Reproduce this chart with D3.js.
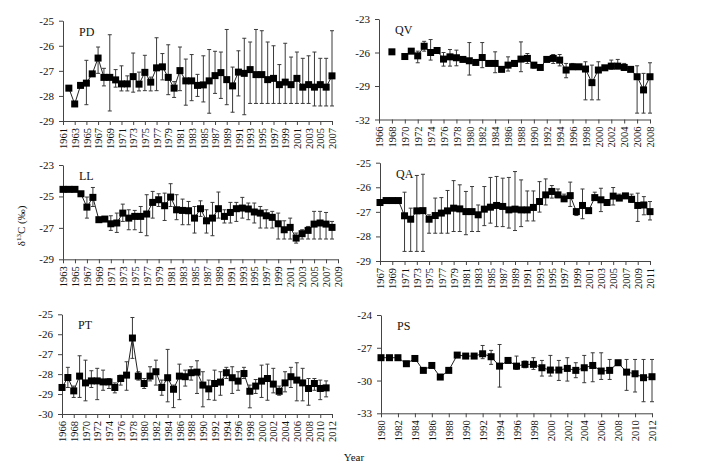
<!DOCTYPE html>
<html><head><meta charset="utf-8">
<script src="https://cdn.jsdelivr.net/npm/d3@7"></script>
<style>body{margin:0;background:#fff}svg{display:block}text{font-family:"Liberation Serif","Times New Roman",serif;fill:#111}</style>
</head><body><div id="c"></div>
<script>
// ---------- DATA ----------
const pdYears = d3.range(1962, 2008);
const pdValues = [-27.69,-28.32,-27.58,-27.49,-27.12,-26.49,-27.26,-27.26,-27.36,-27.52,-27.52,-27.23,-27.53,-27.06,-27.45,-26.88,-26.84,-27.26,-27.69,-26.99,-27.40,-27.40,-27.58,-27.56,-27.40,-27.19,-27.07,-27.35,-27.60,-27.05,-27.10,-26.95,-27.15,-27.15,-27.35,-27.30,-27.55,-27.45,-27.55,-27.30,-27.65,-27.55,-27.65,-27.55,-27.65,-27.20];
const pdHigh = [null,null,null,-26.58,null,-26.05,-26.90,-25.56,-26.95,-26.80,-27.20,-26.29,-27.05,-26.38,-27.25,-25.68,-26.31,-25.96,-27.43,-26.05,-26.53,-26.35,-27.14,-26.40,-26.15,-26.22,-26.25,-25.35,-26.85,-26.20,-25.70,-25.85,-25.35,-25.40,-25.85,-26.00,-26.75,-25.90,-26.45,-26.25,-26.50,-26.40,-26.25,-26.50,-26.50,-25.40];
const pdLow = [null,null,null,-28.35,null,-27.10,-27.60,-28.60,-27.65,-27.80,-27.80,-27.85,-27.80,-27.79,-27.80,-27.79,-27.36,-27.95,-28.06,-27.79,-28.37,-28.19,-28.02,-28.24,-28.69,-27.90,-28.10,-28.35,-28.65,-28.00,-28.75,-28.30,-28.30,-28.30,-28.30,-28.30,-28.30,-28.30,-28.30,-28.30,-28.30,-28.30,-28.40,-28.40,-28.40,-28.40];
const pdTicks = [1961,1963,1965,1967,1969,1971,1973,1975,1977,1979,1981,1983,1985,1987,1989,1991,1993,1995,1997,1999,2001,2003,2005,2007];
const pdYTicks = [-25,-26,-27,-28,-29];

const qvYears = d3.range(1968, 2009);
const qvValues = [-25.94,null,-26.36,-25.88,-26.30,-25.44,-26.00,-25.82,-26.59,-26.39,-26.47,-26.62,-26.74,-26.89,-26.45,-26.98,-26.98,-27.51,-27.13,-26.98,-26.59,-26.53,-27.13,-27.34,-26.62,-26.53,-26.68,-27.57,-27.28,-27.28,-27.48,-28.70,-27.57,-27.37,-27.22,-27.22,-27.34,-27.51,-28.17,-29.35,-28.17];
const qvHigh = [null,null,null,null,-25.88,-25.00,-24.84,null,-26.00,-25.73,-25.79,null,-25.11,null,-25.11,null,-25.94,null,-26.39,-26.85,-25.05,-26.09,-26.90,null,null,-26.18,-26.18,-26.98,-26.98,null,-26.83,-27.13,-26.83,null,-26.68,-26.62,-26.98,null,-27.19,-27.87,-26.92];
const qvLow = [null,null,null,null,-26.92,-25.88,-26.68,null,-27.22,-27.22,-27.19,null,-28.02,null,-27.36,null,-27.81,null,-27.66,-27.25,-27.72,-26.98,-27.40,null,null,-26.98,-27.20,-28.26,-27.42,null,-30.24,-30.24,-30.24,null,-27.50,-27.45,-27.60,null,-31.43,-31.43,-31.43];
const qvTicks = [1966,1968,1970,1972,1974,1976,1978,1980,1982,1984,1986,1988,1990,1992,1994,1996,1998,2000,2002,2004,2006,2008];
const qvYTicks = [-23,-26,-29,-32];

const llYears = d3.range(1963, 2009);
const llValues = [-24.55,-24.55,-24.55,-24.83,-25.68,-25.06,-26.48,-26.44,-26.74,-26.69,-26.06,-26.38,-26.27,-26.27,-26.12,-25.38,-25.21,-25.59,-25.04,-25.85,-25.89,-25.91,-26.38,-25.78,-26.55,-26.38,-25.78,-26.27,-26.02,-25.78,-25.74,-25.80,-25.99,-26.06,-26.23,-26.33,-26.74,-27.12,-26.97,-27.65,-27.37,-27.16,-26.76,-26.69,-26.76,-26.97];
const llHigh = [null,null,null,null,-25.04,-24.43,null,null,-26.23,-26.06,-25.49,-25.85,-25.89,-25.64,-24.89,-24.68,-24.83,-24.79,-24.19,-24.89,-25.17,-25.32,-25.64,-25.28,-25.85,-25.38,-24.72,-25.85,-25.38,-25.38,-25.06,-25.42,-25.42,-25.64,-25.85,-25.95,-26.06,-26.55,-26.38,-27.33,-27.12,-26.91,-25.95,-25.95,-26.02,-26.59];
const llLow = [null,null,null,null,-26.38,-25.64,null,null,-27.16,-27.29,-26.59,-27.12,-27.12,-27.29,-27.50,-26.38,-25.64,-26.53,-25.64,-26.48,-26.80,-26.80,-27.33,-26.27,-27.33,-27.50,-26.38,-26.69,-26.69,-26.59,-26.38,-26.48,-26.69,-27.01,-27.01,-27.01,-27.71,-27.71,-27.71,-27.97,-27.71,-27.71,-27.71,-27.71,-27.71,-27.71];
const llTicks = [1963,1965,1967,1969,1971,1973,1975,1977,1979,1981,1983,1985,1987,1989,1991,1993,1995,1997,1999,2001,2003,2005,2007,2009];
const llYTicks = [-23,-25,-27,-29];

const qaYears = d3.range(1967, 2012);
const qaValues = [-26.62,-26.54,-26.54,-26.54,-27.16,-27.30,-26.96,-26.95,-27.30,-27.15,-27.05,-26.96,-26.85,-26.88,-26.99,-26.99,-27.12,-26.89,-26.81,-26.74,-26.78,-26.92,-26.89,-26.92,-26.92,-26.82,-26.58,-26.31,-26.17,-26.31,-26.47,-26.34,-26.99,-26.74,-26.95,-26.42,-26.51,-26.62,-26.36,-26.44,-26.35,-26.49,-26.74,-26.72,-26.99];
const qaHigh = [null,null,null,null,-26.20,-26.85,-25.52,-25.47,-27.12,-26.44,-26.42,-26.13,-25.73,-25.90,-26.17,-25.97,-26.72,-25.97,-25.60,-25.56,-25.63,-25.60,-25.36,-25.70,-26.15,-26.15,-25.77,-25.66,-25.93,-26.07,-26.28,-25.79,-26.92,-26.07,null,-26.20,-26.04,null,-26.01,-26.28,-26.28,-26.28,-26.24,-26.38,-26.58];
const qaLow = [null,null,null,null,-28.61,-28.61,-28.61,-28.61,-27.87,-27.87,-27.87,-27.87,-27.80,-27.80,-27.93,-27.80,-27.80,-27.56,-27.46,-27.60,-27.60,-27.66,-27.76,-27.60,-27.37,-27.37,-27.01,-26.72,-26.44,-26.42,-26.58,-26.78,-27.15,-27.28,null,-26.52,-26.99,null,-26.72,-26.51,-26.42,-26.62,-27.39,-27.12,-27.33];
const qaTicks = [1967,1969,1971,1973,1975,1977,1979,1981,1983,1985,1987,1989,1991,1993,1995,1997,1999,2001,2003,2005,2007,2009,2011];
const qaYTicks = [-25,-26,-27,-28,-29];

const ptYears = d3.range(1966, 2012);
const ptValues = [-28.67,-28.17,-28.84,-28.10,-28.44,-28.34,-28.34,-28.39,-28.39,-28.67,-28.22,-28.05,-26.19,-28.10,-28.47,-28.10,-27.88,-28.67,-28.18,-28.76,-28.10,-28.13,-27.93,-27.90,-28.55,-28.74,-28.47,-28.40,-27.93,-28.18,-28.35,-27.97,-28.86,-28.60,-28.35,-28.22,-28.50,-28.86,-28.44,-28.13,-28.30,-28.44,-28.72,-28.47,-28.72,-28.69];
const ptHigh = [null,-27.66,-28.60,-27.08,-27.30,-27.83,-27.71,-27.80,-28.22,-28.44,-28.05,-27.38,-25.16,-27.88,-28.22,-27.63,-27.30,-28.30,-26.76,-28.55,-27.50,-27.80,-27.63,-27.33,-27.88,-28.30,-27.80,-27.88,-27.66,-27.63,-27.88,-27.66,-28.55,-28.27,-27.55,-27.50,-27.71,-28.60,-27.88,-27.66,-27.43,-27.71,-28.22,-28.22,-28.30,-28.34];
const ptLow = [null,-28.67,-29.17,-29.17,-29.34,-28.67,-29.28,-28.81,-28.72,-28.94,-28.55,-28.81,-27.21,-28.30,-28.72,-28.34,-28.55,-29.06,-29.39,-29.68,-29.28,-28.60,-28.30,-28.97,-29.64,-29.28,-29.31,-29.06,-28.22,-28.97,-28.81,-28.22,-29.69,-28.97,-29.17,-29.31,-28.94,-29.06,-28.89,-28.67,-29.34,-29.34,-29.56,-28.81,-29.28,-29.14];
const ptTicks = [1966,1968,1970,1972,1974,1976,1978,1980,1982,1984,1986,1988,1990,1992,1994,1996,1998,2000,2002,2004,2006,2008,2010,2012];
const ptYTicks = [-25,-26,-27,-28,-29,-30];

const psYears = d3.range(1980, 2013);
const psValues = [-27.91,-27.91,-27.91,-28.46,-27.98,-29.07,-28.62,-29.68,-29.07,-27.67,-27.76,-27.76,-27.55,-27.82,-28.68,-28.16,-28.68,-28.52,-28.52,-28.83,-29.04,-29.04,-28.89,-29.07,-28.83,-28.62,-29.13,-29.07,-28.37,-29.23,-29.38,-29.74,-29.65];
const psHigh = [null,null,null,null,null,null,null,null,null,null,null,null,-26.79,-27.24,-26.70,-27.91,-27.76,-28.22,-27.91,-28.16,-27.70,-28.16,-27.91,-28.37,-27.70,-27.46,-27.46,-28.07,null,-28.07,-28.07,-28.07,-28.07];
const psLow = [null,null,null,null,null,null,null,null,null,null,null,null,-28.00,-28.52,-30.60,-28.37,-28.98,-28.83,-28.98,-29.59,-29.59,-29.99,-30.05,-29.74,-30.20,-30.11,-29.90,-29.90,null,-30.90,-31.05,-31.94,-31.94];
const psTicks = [1980,1982,1984,1986,1988,1990,1992,1994,1996,1998,2000,2002,2004,2006,2008,2010,2012];
const psYTicks = [-24,-27,-30,-33];

// ---------- LAYOUT ----------
const panels = [
  {name:"PD", years:pdYears, v:pdValues, hi:pdHigh, lo:pdLow, xt:pdTicks, yt:pdYTicks, x0:63, x1:332, yTop:20.7, yBot:121, yD:[-29,-25]},
  {name:"QV", years:qvYears, v:qvValues, hi:qvHigh, lo:qvLow, xt:qvTicks, yt:qvYTicks, x0:379, x1:650, yTop:19, yBot:119.5, yD:[-32,-23]},
  {name:"LL", years:llYears, v:llValues, hi:llHigh, lo:llLow, xt:llTicks, yt:llYTicks, x0:63, x1:338, yTop:165, yBot:259.3, yD:[-29,-23]},
  {name:"QA", years:qaYears, v:qaValues, hi:qaHigh, lo:qaLow, xt:qaTicks, yt:qaYTicks, x0:380, x1:650, yTop:162.7, yBot:261, yD:[-29,-25]},
  {name:"PT", years:ptYears, v:ptValues, hi:ptHigh, lo:ptLow, xt:ptTicks, yt:ptYTicks, x0:62, x1:332, yTop:314.3, yBot:414, yD:[-30,-25]},
  {name:"PS", years:psYears, v:psValues, hi:psHigh, lo:psLow, xt:psTicks, yt:psYTicks, x0:381, x1:652, yTop:315, yBot:413.3, yD:[-33,-24]}
];

const svg = d3.select("#c").append("svg").attr("width",703).attr("height",469);

panels.forEach(p => {
  const x = d3.scaleLinear().domain([p.xt[0], p.xt[p.xt.length-1]]).range([p.x0, p.x1]);
  const y = d3.scaleLinear().domain(p.yD).range([p.yBot, p.yTop]);
  const g = svg.append("g");

  // y axis
  const ya = g.append("g").attr("transform",`translate(${p.x0},0)`)
    .call(d3.axisLeft(y).tickValues(p.yt).tickSize(4).tickSizeOuter(0).tickFormat(d3.format("d")));
  ya.select(".domain").attr("stroke","#444");
  ya.selectAll(".tick line").attr("stroke","#444");
  ya.selectAll("text").attr("x",-9).style("font-size","11px").style("font-family","Liberation Serif").attr("fill","#111")
    .text(d => "-" + Math.abs(d));

  // x axis
  const xa = g.append("g").attr("transform",`translate(0,${p.yBot})`)
    .call(d3.axisBottom(x).tickValues(p.xt).tickSize(4).tickSizeOuter(0).tickFormat(d3.format("d")));
  xa.select(".domain").attr("stroke","#444");
  xa.selectAll(".tick line").attr("stroke","#444");
  xa.selectAll("text")
    .attr("transform","rotate(-90)").attr("text-anchor","end")
    .attr("x",-7).attr("y",0).attr("dy","0.35em")
    .style("font-size","10.5px").style("font-family","Liberation Serif").attr("fill","#111");

  const data = p.years.map((yr,i) => ({yr, v:p.v[i], hi:p.hi[i], lo:p.lo[i]}));

  // error bars
  const eb = data.filter(d => d.v !== null && d.hi !== null && d.lo !== null);
  g.selectAll(".eb").data(eb).enter().append("line")
    .attr("x1",d=>x(d.yr)).attr("x2",d=>x(d.yr)).attr("y1",d=>y(d.hi)).attr("y2",d=>y(d.lo))
    .attr("stroke","#3a3a3a").attr("stroke-width",1);
  ["hi","lo"].forEach(k => {
    g.selectAll(".cap"+k).data(eb).enter().append("line")
      .attr("x1",d=>x(d.yr)-2).attr("x2",d=>x(d.yr)+2).attr("y1",d=>y(d[k])).attr("y2",d=>y(d[k]))
      .attr("stroke","#3a3a3a").attr("stroke-width",1);
  });

  // line
  const line = d3.line().defined(d => d.v !== null).x(d=>x(d.yr)).y(d=>y(d.v));
  g.append("path").datum(data).attr("d",line).attr("fill","none").attr("stroke","#222").attr("stroke-width",1);

  // markers
  g.selectAll(".pt").data(data.filter(d=>d.v!==null)).enter().append("rect")
    .attr("x",d=>x(d.yr)-3.5).attr("y",d=>y(d.v)-3.5).attr("width",7).attr("height",7).attr("fill","#000");

  // panel label
  g.append("text").attr("x",p.x0+16).attr("y",p.yTop+15).text(p.name)
    .style("font-size","12px");
});

// axis titles
svg.append("text").attr("transform","translate(25,226) rotate(-90)").attr("text-anchor","middle")
  .style("font-size","11px").html('δ<tspan dy="-4" font-size="7px">13</tspan><tspan dy="4">C (‰)</tspan>');
svg.append("text").attr("x",354).attr("y",461).attr("text-anchor","middle").style("font-size","11px").text("Year");
</script></body></html>
